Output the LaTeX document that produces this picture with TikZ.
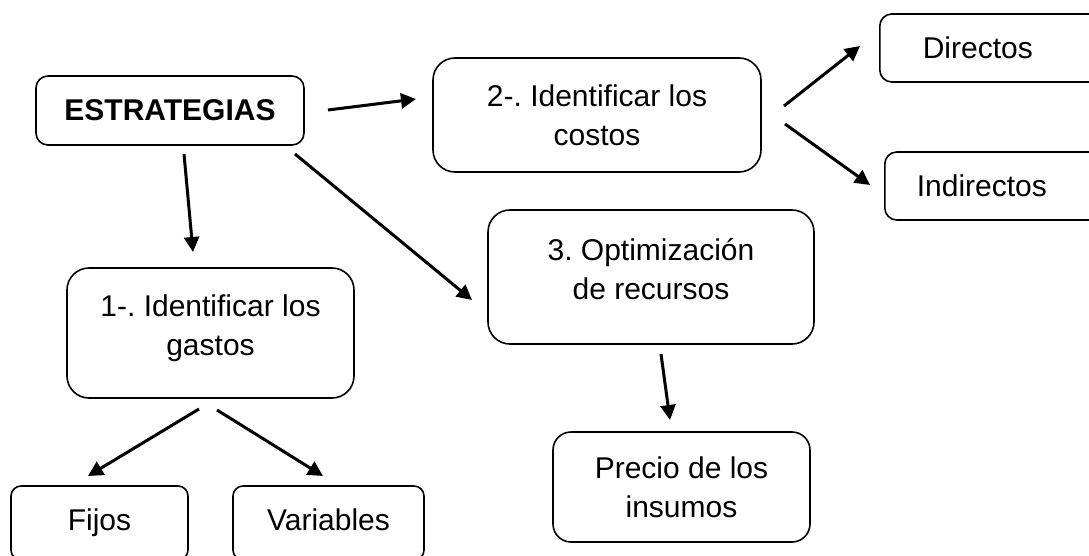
\documentclass[tikz,border=0pt]{standalone}
\usepackage{fontspec}
\setmainfont{Liberation Sans}
\usetikzlibrary{arrows.meta}
\frenchspacing
\tikzset{
  caja/.style={draw, line width=1.6pt, rounded corners=#1, align=center, inner sep=0pt},
  caja/.default=12pt,
  flecha/.style={line width=3pt, -{Triangle[length=15pt,width=15pt]}}
}
\begin{document}
\begin{tikzpicture}[x=1pt,y=-1pt,font=\fontsize{30}{39}\selectfont]
  \useasboundingbox[fill=white] (0,0) rectangle (1089,556);
  \node[caja, minimum width=268pt, minimum height=69pt, font=\fontsize{30}{39}\selectfont\bfseries] (e) at (170,110.5) {ESTRATEGIAS};
  \node[caja=22pt, minimum width=328pt, minimum height=114pt] (c2) at (597,115) {2-. Identificar los\\costos};
  \node[caja, anchor=west, text width=200pt, align=left, inner xsep=43pt, minimum height=68pt] (d) at (879,48) {Directos};
  \node[caja, anchor=west, text width=200pt, align=left, inner xsep=32pt, minimum height=68pt] (ind) at (884,186) {Indirectos};
  \node[caja=22pt, minimum width=326pt, minimum height=134pt, text depth=16pt] (o3) at (651,277) {3. Optimización\\de recursos};
  \node[caja=22pt, minimum width=287pt, minimum height=130pt, text depth=16pt] (g1) at (210.5,333) {1-. Identificar los\\gastos};
  \node[caja=10pt, minimum width=177pt, minimum height=74pt, text height=22pt, text depth=7pt] (f) at (99.5,523) {Fijos};
  \node[caja=10pt, minimum width=191pt, minimum height=74pt, text height=22pt, text depth=7pt] (v) at (328.5,523) {Variables};
  \node[caja=18pt, minimum width=257pt, minimum height=110pt] (p) at (681.5,487) {Precio de los\\insumos};
  % puntas libres de las flechas
  \coordinate (e-c2) at (328,110);   \coordinate (c2-e) at (416,99);
  \coordinate (c2-d) at (784,106);   \coordinate (d-c2) at (860,46);
  \coordinate (c2-i) at (785,124);   \coordinate (i-c2) at (870,185);
  \coordinate (e-o3) at (295,154);   \coordinate (o3-e) at (472,300);
  \coordinate (e-g1) at (184,154);   \coordinate (g1-e) at (193,252);
  \coordinate (g1-f) at (199,409);   \coordinate (f-g1) at (88,476);
  \coordinate (g1-v) at (217,410);   \coordinate (v-g1) at (323,476);
  \coordinate (o3-p) at (661,354);   \coordinate (p-o3) at (670,420);
  \draw[flecha] (e-c2) -- (c2-e);
  \draw[flecha] (c2-d) -- (d-c2);
  \draw[flecha] (c2-i) -- (i-c2);
  \draw[flecha] (e-o3) -- (o3-e);
  \draw[flecha] (e-g1) -- (g1-e);
  \draw[flecha] (g1-f) -- (f-g1);
  \draw[flecha] (g1-v) -- (v-g1);
  \draw[flecha] (o3-p) -- (p-o3);
\end{tikzpicture}
\end{document}
